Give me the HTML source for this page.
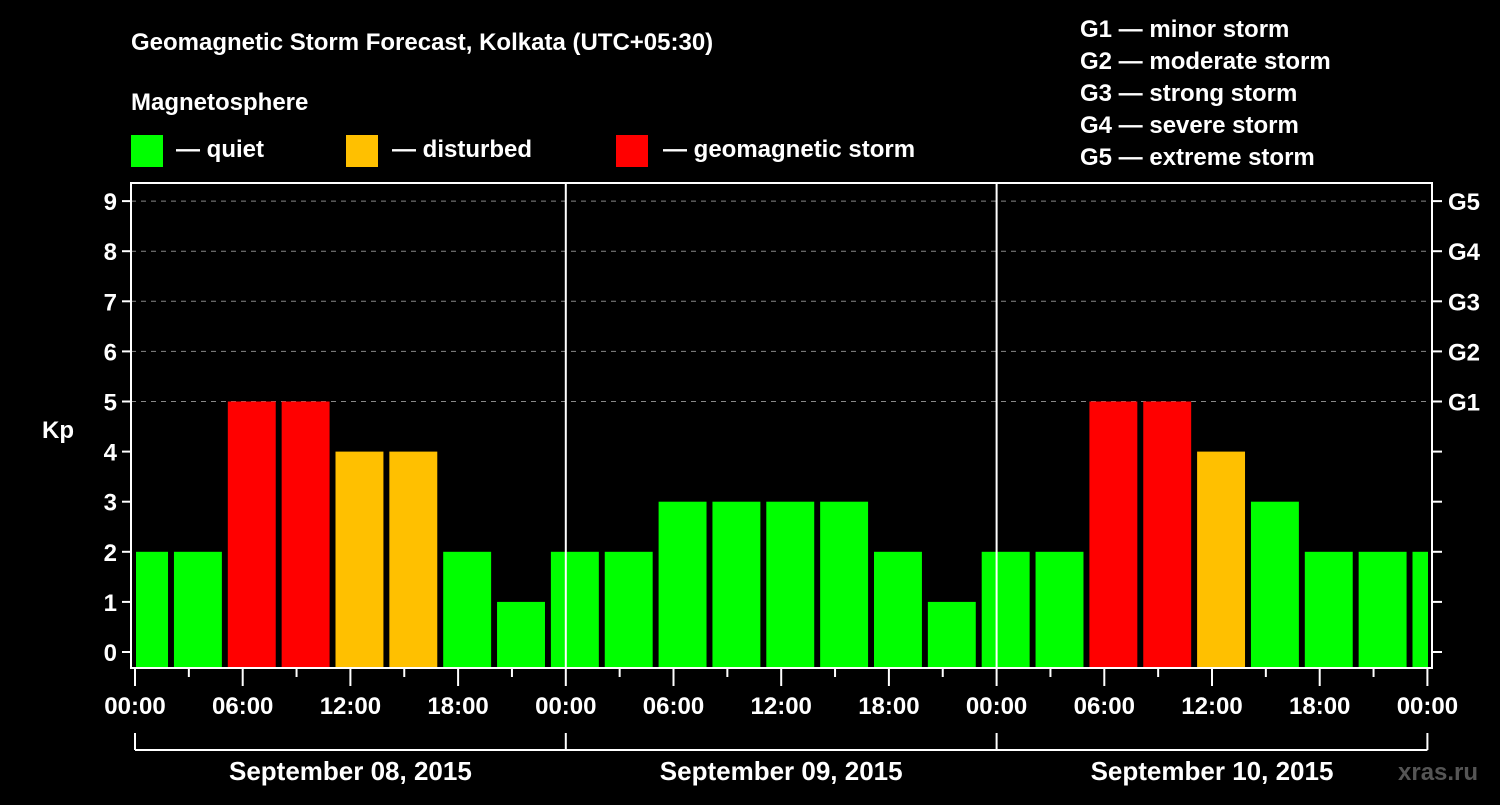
<!DOCTYPE html>
<html><head><meta charset="utf-8"><style>
body{margin:0;background:#000;width:1500px;height:800px;overflow:hidden}
svg text{font-family:"Liberation Sans",Arial,sans-serif;font-weight:bold;fill:#fff}
</style></head><body>
<svg id="chart" width="1500" height="800" xmlns="http://www.w3.org/2000/svg">
<rect width="1500" height="800" fill="#000"/>
<text x="131" y="50" font-size="24">Geomagnetic Storm Forecast, Kolkata (UTC+05:30)</text>
<text x="131" y="110" font-size="24">Magnetosphere</text>
<g><rect x="131" y="135" width="32" height="32" fill="#00ff00"/><text x="176" y="157" font-size="24">— quiet</text></g>
<g><rect x="346" y="135" width="32" height="32" fill="#ffc000"/><text x="392" y="157" font-size="24">— disturbed</text></g>
<g><rect x="616" y="135" width="32" height="32" fill="#ff0000"/><text x="663" y="157" font-size="24">— geomagnetic storm</text></g>
<g font-size="24">
<text x="1080" y="37">G1 — minor storm</text>
<text x="1080" y="69">G2 — moderate storm</text>
<text x="1080" y="101">G3 — strong storm</text>
<text x="1080" y="133">G4 — severe storm</text>
<text x="1080" y="165">G5 — extreme storm</text>
</g>
<g id="grid"></g><g id="bars"></g><g id="axes"></g>
<text x="42" y="438" font-size="24">Kp</text>
<text x="1398" y="780" font-size="24" fill="#555" style="fill:#555">xras.ru</text>
</svg>
<script>
const kpValues=[2,2,5,5,4,4,2,1,2,2,3,3,3,3,2,1,2,2,5,5,4,3,2,2,2];
const yTicks=[0,1,2,3,4,5,6,7,8,9];
const gLabels=["G1","G2","G3","G4","G5"];
const timeLabels=["00:00","06:00","12:00","18:00","00:00","06:00","12:00","18:00","00:00","06:00","12:00","18:00","00:00"];
const dayLabels=["September 08, 2015","September 09, 2015","September 10, 2015"];
const NS="http://www.w3.org/2000/svg";
const L=131,R=1432,T=183,B=668,X0=135,PXH=17.95;
const x=h=>X0+h*PXH;
const y=v=>652-v*50.1;
function mk(t,a,p){const e=document.createElementNS(NS,t);for(const k in a)e.setAttribute(k,a[k]);p.appendChild(e);return e;}
const grid=document.getElementById('grid'),bars=document.getElementById('bars'),axes=document.getElementById('axes');
const col=v=>v>=5?'#ff0000':v>=4?'#ffc000':'#00ff00';
kpValues.forEach((v,i)=>{
  let h0=-0.83+3*i, x1=x(h0), x2=x(h0+2.67);
  x1=Math.max(x1,L+5);x2=Math.min(x2,R-4);
  const r=mk('rect',{x:x1,y:y(v),width:x2-x1,height:B-y(v),fill:col(v)},bars);
  
  
});
yTicks.forEach(v=>{
  if(v>=5){const g=mk('line',{x1:L,x2:R,y1:y(v),y2:y(v),stroke:'#888','stroke-dasharray':'5,5','stroke-width':1},grid);
  }
  mk('line',{x1:L-9,x2:L,y1:y(v),y2:y(v),stroke:'#fff','stroke-width':2},axes);
  mk('line',{x1:R,x2:R+10,y1:y(v),y2:y(v),stroke:'#fff','stroke-width':2},axes);
  const t=mk('text',{x:L-14,y:y(v)+9,'text-anchor':'end','font-size':24},axes);t.textContent=v;
  
});
gLabels.forEach((g,i)=>{const t=mk('text',{x:1448,y:y(5+i)+9,'font-size':24},axes);t.textContent=g;
  });
mk('rect',{x:L,y:T,width:R-L,height:B-T,fill:'none',stroke:'#fff','stroke-width':2},axes);
[1,2].forEach(d=>mk('line',{x1:x(24*d),x2:x(24*d),y1:T,y2:B,stroke:'#fff','stroke-width':2},axes));
for(let h=0;h<=72;h+=3){const maj=h%6==0;mk('line',{x1:x(h),x2:x(h),y1:B,y2:B+(maj?18:9),stroke:'#fff','stroke-width':2},axes);}
timeLabels.forEach((s,i)=>{const t=mk('text',{x:x(6*i),y:714,'text-anchor':'middle','font-size':24},axes);t.textContent=s;
  });
mk('line',{x1:x(0),x2:x(72),y1:750,y2:750,stroke:'#fff','stroke-width':2},axes);
[0,1,2,3].forEach(d=>mk('line',{x1:x(24*d),x2:x(24*d),y1:733,y2:750,stroke:'#fff','stroke-width':2},axes));
dayLabels.forEach((s,i)=>{const t=mk('text',{x:x(24*i+12),y:780,'text-anchor':'middle','font-size':26},axes);t.textContent=s;
  });
</script>
</body></html>
